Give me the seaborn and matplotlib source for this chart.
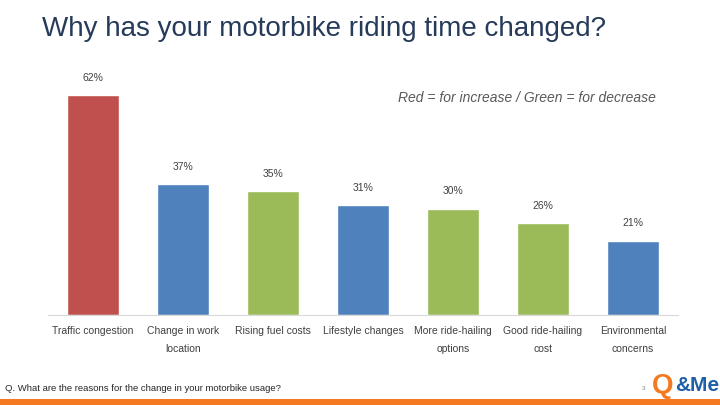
import pandas as pd
import seaborn as sns
import matplotlib.pyplot as plt

categories = ["Traffic congestion", "Change in work\nlocation", "Rising fuel costs",
              "Lifestyle changes", "More ride-hailing\noptions", "Good ride-hailing\ncost",
              "Environmental\nconcerns"]
values = [62, 37, 35, 31, 30, 26, 21]
bar_colors = ["#C0504D", "#4F81BD", "#9BBB59", "#4F81BD", "#9BBB59", "#9BBB59", "#4F81BD"]

df = pd.DataFrame({"reason": categories, "pct": values})

sns.set_style("white")
plt.rcParams["font.family"] = ["Liberation Sans", "DejaVu Sans"]

fig = plt.figure(figsize=(7.2, 4.05), dpi=100)
ax = fig.add_axes([0.0667, 0.2222, 0.875, 0.6296])
sns.barplot(data=df, x="reason", y="pct", hue="reason", palette=bar_colors,
            legend=False, width=0.58, saturation=1, ax=ax)
ax.set_ylim(0, 72)
ax.set_xlim(-0.5, len(categories) - 0.5)
ax.set_yticks([])
ax.set_xlabel("")
ax.set_ylabel("")
for s in ["top", "left", "right"]:
    ax.spines[s].set_visible(False)
ax.spines["bottom"].set_color("#D9D9D9")
ax.tick_params(axis="x", length=0, pad=8, labelsize=7.5, labelcolor="#404040")
for lbl in ax.get_xticklabels():
    lbl.set_linespacing(2.0)
    lbl.set_verticalalignment("top")

for i, v in enumerate(values):
    ax.text(i, v + 3.5, f"{v}%", ha="center", va="bottom", fontsize=7.5, color="#404040")

fig.text(0.058, 0.928, "Why has your motorbike riding time changed?", fontsize=20,
         color="#263A5A", va="center")
fig.text(0.553, 0.758, "Red = for increase / Green = for decrease", fontsize=10,
         style="italic", color="#595959", va="center")
fig.text(0.007, 0.04, "Q. What are the reasons for the change in your motorbike usage?",
         fontsize=6.8, color="#262626", va="center")
fig.text(0.892, 0.04, "3", fontsize=4.5, color="#7F7F7F", va="center")
fig.text(0.906, 0.048, "Q", fontsize=20, weight="bold", color="#F47920", va="center")
fig.text(0.938, 0.048, "&Me", fontsize=15, weight="bold", color="#1F5EA8", va="center")
fig.add_artist(plt.Rectangle((0, 0), 1, 0.015, transform=fig.transFigure,
                             color="#F47920", lw=0))

fig.savefig("out.png", dpi=100)
